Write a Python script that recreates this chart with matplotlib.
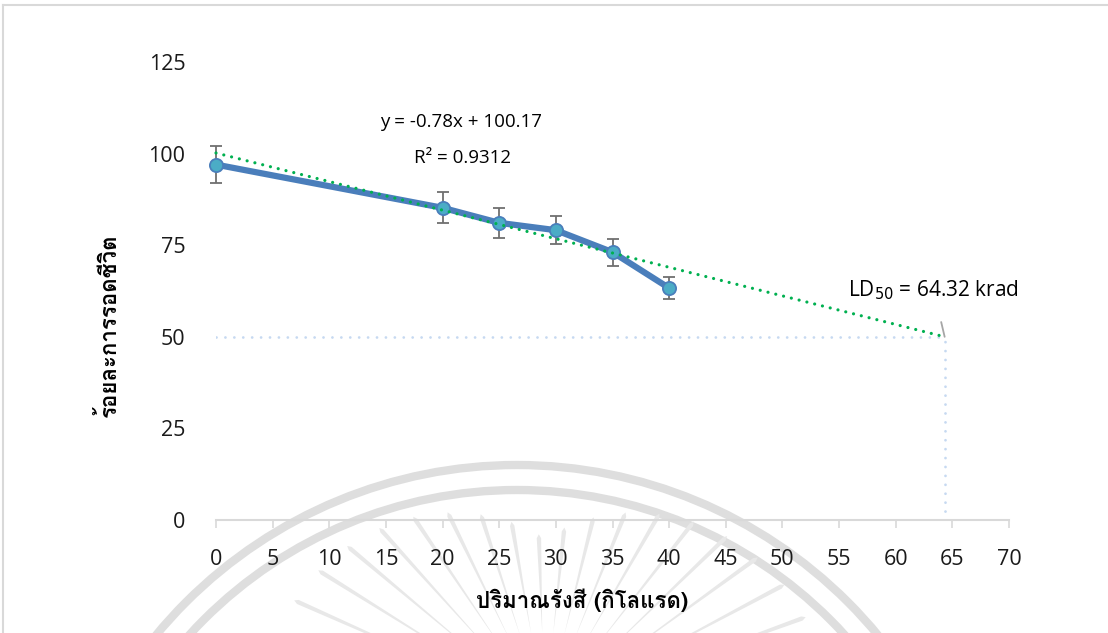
import numpy as np
import matplotlib
matplotlib.use("Agg")
import matplotlib.pyplot as plt
from matplotlib import font_manager
from matplotlib.ft2font import FT2Font
from matplotlib.patches import Arc, Polygon

# data
dose = [0, 20, 25, 30, 35, 40]
survival = [97.0, 85.2, 81.1, 79.1, 73.1, 63.3]
err = [5.0, 4.2, 4.1, 3.9, 3.7, 3.1]
slope = -0.78
intercept = 100.17
r2 = 0.9312
ld50 = 64.32
xticks = list(range(0, 71, 5))
yticks = [0, 25, 50, 75, 100, 125]
xlabel = "ปริมาณรังสี (กิโลแรด)"
ylabel = "ร้อยละการรอดชีวิต"

# find something that can draw Thai
thai = None
for f in font_manager.fontManager.ttflist:
    try:
        if FT2Font(f.fname).get_char_index(0x0E23):
            thai = f.name
            break
    except Exception:
        pass
thai_fam = [thai, "DejaVu Sans"] if thai else ["DejaVu Sans"]
lat = ["Open Sans", "DejaVu Sans"]

fig = plt.figure(figsize=(11.08, 6.33), dpi=100)

# faint watermark behind everything
bg = fig.add_axes([0, 0, 1, 1], zorder=0)
bg.set_xlim(0, 1108)
bg.set_ylim(633, 0)
bg.axis("off")
wm = "#dedede"
cx, cy = 517, 933
for r in (468, 443):
    bg.add_patch(Arc((cx, cy), 2 * r, 2 * r, theta1=180, theta2=360, lw=6, color=wm))
rx, ry = 545, 712
for a in range(12, 172, 8):
    t = np.radians(a)
    r0, r1 = 80, 170 + 110 * abs(np.cos(t))
    ux, uy = np.cos(t), -np.sin(t)
    px, py = -uy, ux
    pts = [(rx + r0 * ux, ry + r0 * uy),
           (rx + r1 * ux + 2.2 * px, ry + r1 * uy + 2.2 * py),
           (rx + (r1 + 4) * ux, ry + (r1 + 4) * uy),
           (rx + r1 * ux - 2.2 * px, ry + r1 * uy - 2.2 * py)]
    bg.add_patch(Polygon(pts, closed=True, color="#e8e8e8", lw=0))

# page border (top & left)
fig.add_artist(plt.Line2D([3 / 1108, 1], [1 - 5 / 633, 1 - 5 / 633], color="#d9d9d9", lw=1.5))
fig.add_artist(plt.Line2D([3 / 1108, 3 / 1108], [0, 1 - 5 / 633], color="#d9d9d9", lw=1.5))

ax = fig.add_axes([216 / 1108, 1 - 520 / 633, 793 / 1108, 458 / 633], zorder=1)
ax.patch.set_alpha(0)
ax.set_xlim(0, 70)
ax.set_ylim(0, 125)

# LD50 guide lines
ax.plot([0, ld50], [50, 50], color="#c6d9f1", lw=2, linestyle=(0, (0.01, 3.2)),
        dash_capstyle="round", zorder=1)
ax.plot([ld50, ld50], [0, 50], color="#c6d9f1", lw=2, linestyle=(0, (0.01, 3.2)),
        dash_capstyle="round", zorder=1)

# data line with error bars
eb = ax.errorbar(dose, survival, yerr=err, color="#4a7ebb", lw=4.5, marker="o", ms=9.5,
                 mfc="#4bacc6", mec="#4a7ebb", mew=1.3, ecolor="#6f6f6f", elinewidth=1.3,
                 capsize=4.5, capthick=1.3, zorder=3)
for art in [eb.lines[0]] + list(eb.lines[1]) + list(eb.lines[2]):
    art.set_clip_on(False)

# linear trend out to LD50
tx = np.array([0, ld50])
ax.plot(tx, slope * tx + intercept, color="#00b050", lw=2.3, linestyle=(0, (0.01, 2.5)),
        dash_capstyle="round", zorder=4, clip_on=False)

ax.text(21.6, 108.6, f"y = {slope}x + {intercept}", ha="center", va="center",
        fontsize=13.5, family=lat)
ax.text(21.8, 98.8, f"R² = {r2}", ha="center", va="center", fontsize=13.5, family=lat)
ax.annotate(f"LD$_{{50}}$ = {ld50} krad", xy=(ld50, 50), xytext=(55.8, 62.8),
            ha="left", va="center", fontsize=15, family=lat,
            arrowprops=dict(arrowstyle="-", color="#a6a6a6", lw=1.3, shrinkA=13, shrinkB=0))

for s in ("top", "right", "left"):
    ax.spines[s].set_visible(False)
ax.spines["bottom"].set_color("#d9d9d9")
ax.spines["bottom"].set_linewidth(1.5)
ax.set_xticks(xticks)
ax.set_yticks(yticks)
ax.tick_params(axis="x", direction="out", length=6, width=1.2, color="#d9d9d9",
               pad=15, labelsize=15.5, labelcolor="#1a1a1a")
ax.tick_params(axis="y", length=0, pad=22, labelsize=15.5, labelcolor="#1a1a1a")
for lab in ax.get_xticklabels() + ax.get_yticklabels():
    lab.set_family(lat)

ax.set_xlabel(xlabel, family=thai_fam, fontsize=16, fontweight="bold", va="center")
ax.xaxis.set_label_coords((582 - 216) / 793, (520 - 600) / 458)
ax.set_ylabel(ylabel, family=thai_fam, fontsize=16, fontweight="bold", va="center")
ax.yaxis.set_label_coords((108 - 216) / 793, (520 - 325) / 458)

fig.savefig("out.png", dpi=100)
